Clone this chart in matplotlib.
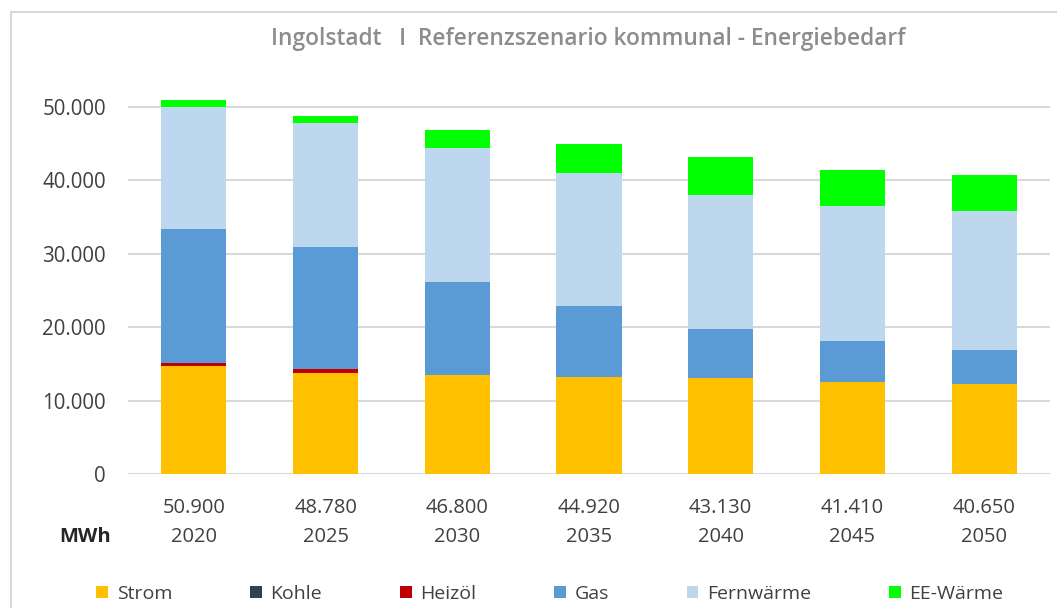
import matplotlib
matplotlib.use("Agg")
import matplotlib.pyplot as plt
from matplotlib.patches import Rectangle
import numpy as np

years = ["2020", "2025", "2030", "2035", "2040", "2045", "2050"]
totals = ["50.900", "48.780", "46.800", "44.920", "43.130", "41.410", "40.650"]
series_names = ["Strom", "Kohle", "Heizöl", "Gas", "Fernwärme", "EE-Wärme"]
strom = [14700, 13750, 13450, 13250, 13070, 12530, 12210]
kohle = [0, 0, 0, 0, 0, 0, 0]
heizoel = [450, 550, 0, 0, 0, 0, 0]
gas = [18200, 16600, 12750, 9620, 6630, 5620, 4710]
fernwaerme = [16650, 16930, 18150, 18150, 18330, 18340, 18890]
ee_waerme = [900, 950, 2450, 3900, 5100, 4920, 4840]
yticks = [0, 10000, 20000, 30000, 40000, 50000]
ytick_labels = ["0", "10.000", "20.000", "30.000", "40.000", "50.000"]

colors = ["#FFC000", "#333F50", "#C00000", "#5B9BD5", "#BDD7EE", "#00FF00"]
series = [strom, kohle, heizoel, gas, fernwaerme, ee_waerme]

plt.rcParams['font.family'] = ['Open Sans', 'DejaVu Sans']

W, H = 1057, 608
fig = plt.figure(figsize=(W / 100, H / 100), dpi=100)

# chart frame
fig.patches.append(Rectangle((11 / W, -0.05), 1.2, (H - 12) / H + 0.05,
                             transform=fig.transFigure, fill=False,
                             edgecolor="#d9d9d9", lw=1.5))

ax = fig.add_axes([128 / W, (H - 474) / H, 922 / W, (474 - 90) / H])
x = np.arange(len(years))
bottom = np.zeros(len(years))
handles = []
for name, vals, c in zip(series_names, series, colors):
    v = np.array(vals, dtype=float)
    b = ax.bar(x, v, 0.495, bottom=bottom, color=c, label=name,
               edgecolor="none", zorder=3)
    handles.append(b)
    bottom += v

ax.set_xlim(-0.5, len(years) - 0.5)
ax.set_ylim(0, 52280)
ax.set_yticks(yticks)
ax.set_yticklabels(ytick_labels)
ax.yaxis.grid(True, color="#d9d9d9", lw=1.5, zorder=0)
for s in ax.spines.values():
    s.set_visible(False)
ax.tick_params(axis="y", length=0, pad=16, labelsize=14.8, labelcolor="#404040")
ax.set_xticks(x)
ax.set_xticklabels([f"{t}\n{y}" for t, y in zip(totals, years)],
                   linespacing=1.6)
ax.tick_params(axis="x", length=0, pad=17, labelsize=14.5, labelcolor="#404040")

fig.text(85 / W, 1 - 537 / H, "MWh", ha="center", va="center",
         fontsize=14.5, fontweight="bold", color="#262626")

fig.text(588 / W, 1 - 39 / H,
         "Ingolstadt   I  Referenzszenario kommunal - Energiebedarf",
         ha="center", va="center", fontsize=16.4, fontweight="semibold",
         color="#8c8c8c")

leg = fig.legend(handles=handles, labels=series_names, loc="center",
                 bbox_to_anchor=(550 / W, 1 - 594 / H), ncol=6, frameon=False,
                 fontsize=14, handlelength=0.6, handleheight=0.6,
                 handletextpad=0.45, columnspacing=4.0, labelcolor="#404040")

fig.savefig("out.png", dpi=100)
